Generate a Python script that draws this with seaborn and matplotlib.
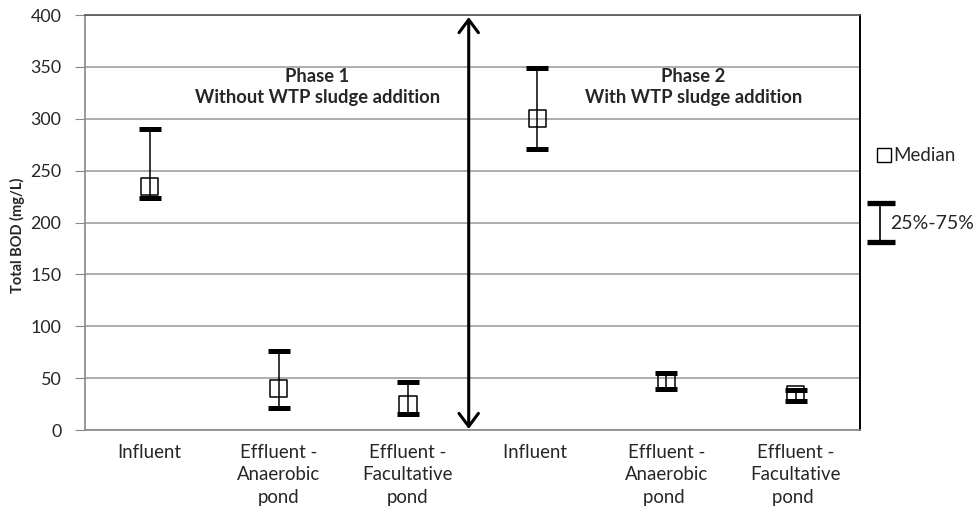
import numpy as np
import pandas as pd
import matplotlib
matplotlib.use('Agg')
import matplotlib.pyplot as plt
from matplotlib.lines import Line2D
import seaborn as sns

sns.set_style('white')
plt.rcParams['font.family'] = ['Lato', 'DejaVu Sans']

# 資料
categories = ['Influent', 'Effluent -\nAnaerobic\npond', 'Effluent -\nFacultative\npond',
              'Influent ', 'Effluent -\nAnaerobic\npond ', 'Effluent -\nFacultative\npond ']
median = [235, 40, 25, 300, 46, 34]
q25 = [224, 21, 15, 271, 40, 28]
q75 = [290, 76, 46, 349, 55, 39]
phase_labels = ['Phase 1\nWithout WTP sludge addition', 'Phase 2\nWith WTP sludge addition']

df = pd.DataFrame({'cat': categories, 'median': median, 'q25': q25, 'q75': q75})
x = np.arange(len(categories))

fig = plt.figure(figsize=(9.73, 5.11), dpi=100)
ax = fig.add_axes([0.0874, 0.1585, 0.7966, 0.8121])

# 四分位範圍
ax.errorbar(x, df['median'],
            yerr=[df['median'] - df['q25'], df['q75'] - df['median']],
            fmt='none', ecolor='black', elinewidth=1.1, capsize=8, capthick=3.6, zorder=3)
sns.scatterplot(x=x, y=df['median'], ax=ax, marker='s', s=150, facecolor='none',
                edgecolor='black', linewidth=1.1, zorder=4, legend=False)

ax.set_xlim(-0.5, len(categories) - 0.5)
ax.set_ylim(0, 400)
ax.set_yticks(range(0, 401, 50))
ax.set_xticks(x)
ax.set_xticklabels(categories, fontsize=13.4, linespacing=1.38)
ax.set_xticks(np.arange(-0.5, len(categories), 1), minor=True)
ax.tick_params(axis='x', which='major', length=0, pad=10)
ax.tick_params(axis='x', which='minor', length=6, color='#888888', width=1, direction='out')
ax.tick_params(axis='y', labelsize=12.9, length=7, color='#888888', direction='out',
               left=True, pad=10)
ax.yaxis.grid(True, color='#a0a0a0', linewidth=1.2)
ax.set_axisbelow(True)
ax.set_ylabel('Total BOD (mg/L)', fontsize=10.5, fontweight='bold')
ax.yaxis.set_label_coords(-0.078, 0.47)
ax.set_xlabel('')

for s in ['left', 'bottom']:
    ax.spines[s].set_color('#888888')
    ax.spines[s].set_linewidth(1.2)
ax.spines['top'].set_color('#555555')
ax.spines['top'].set_linewidth(1.2)
ax.spines['right'].set_color('black')
ax.spines['right'].set_linewidth(1.4)

# 分期箭頭
ax.annotate('', xy=(2.47, 1), xytext=(2.47, 398),
            arrowprops=dict(arrowstyle='<->,head_length=0.67,head_width=0.5', color='black',
                            lw=2.2, mutation_scale=14, shrinkA=0, shrinkB=0), zorder=5)

ax.text(1.30, 331, phase_labels[0], ha='center', va='center', fontsize=13.2,
        fontweight='bold', linespacing=1.3)
ax.text(4.21, 331, phase_labels[1], ha='center', va='center', fontsize=13.2,
        fontweight='bold', linespacing=1.3)

# 圖例
fig.add_artist(Line2D([884 / 973], [1 - 155 / 511], marker='s', markersize=9.5,
                      markerfacecolor='none', markeredgecolor='black', markeredgewidth=1.0,
                      linestyle='none', transform=fig.transFigure))
fig.text(893 / 973, 1 - 155 / 511, 'Median', fontsize=13.5, va='center', ha='left')
fig.add_artist(Line2D([880 / 973, 880 / 973], [1 - 203 / 511, 1 - 242 / 511], color='black',
                      lw=1.2, transform=fig.transFigure))
for yy in [203, 242]:
    fig.add_artist(Line2D([867 / 973, 895 / 973], [1 - yy / 511, 1 - yy / 511], color='black',
                          lw=3.8, solid_capstyle='butt', transform=fig.transFigure))
fig.text(890 / 973, 1 - 223 / 511, '25%-75%', fontsize=14, va='center', ha='left')

plt.savefig('out.png', dpi=100)
plt.close()
